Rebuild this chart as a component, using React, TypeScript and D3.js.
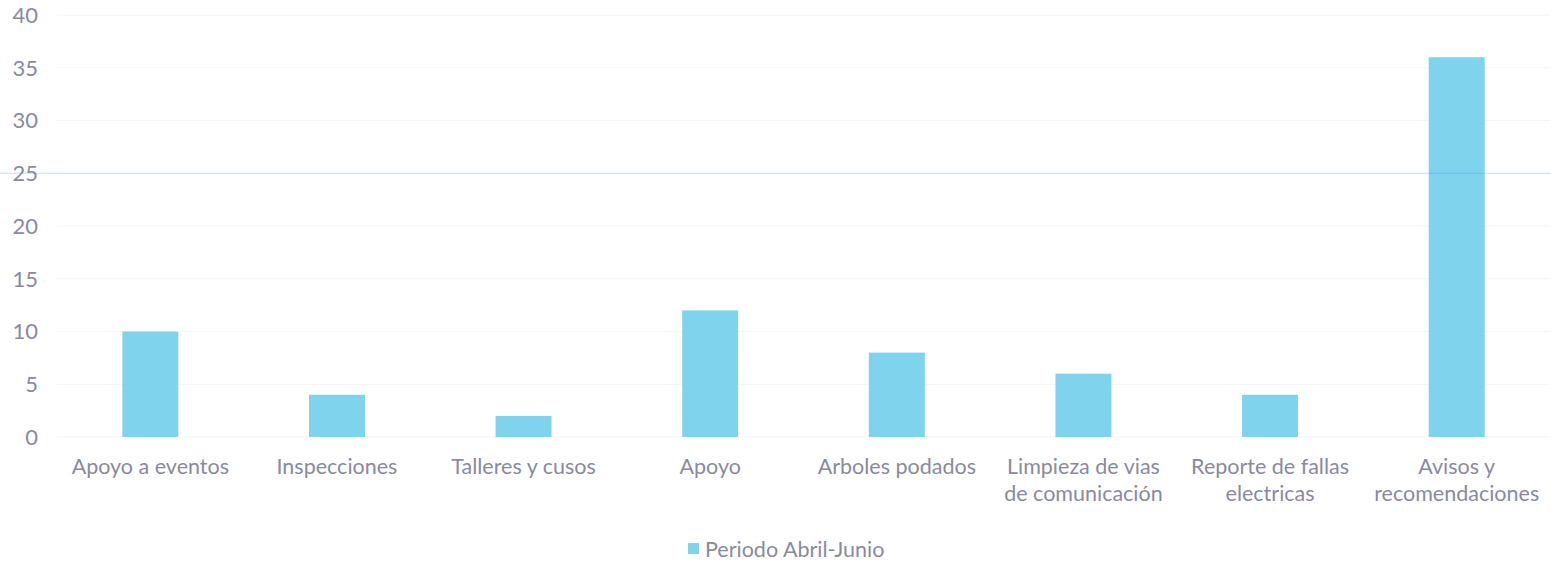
import React from "react";
import * as d3 from "d3";

const categories: string[][] = [
  ["Apoyo a eventos"],
  ["Inspecciones"],
  ["Talleres y cusos"],
  ["Apoyo"],
  ["Arboles podados"],
  ["Limpieza de vias", "de comunicación"],
  ["Reporte de fallas", "electricas"],
  ["Avisos y", "recomendaciones"],
];
const values: number[] = [10, 4, 2, 12, 8, 6, 4, 36];
const yTicks: number[] = [0, 5, 10, 15, 20, 25, 30, 35, 40];
const seriesName = "Periodo Abril-Junio";

const W = 1551;
const H = 561;
const left = 57;
const right = 1550;
const top = 15;
const bottom = 437;
const barColor = "#7fd3ec";
const textColor = "#8a8a9c";
const font = "Lato, 'Open Sans', sans-serif";

export default function App() {
  const keys = categories.map((_, i) => String(i));
  const x = d3.scaleBand<string>().domain(keys).range([left, right]).paddingInner(0.7).paddingOuter(0.35);
  const y = d3.scaleLinear().domain([0, 40]).range([bottom, top]);

  return (
    <svg
      width={W}
      height={H}
      style={{ position: "absolute", left: 0, top: 0, background: "#fff" }}
      fontFamily={font}
    >
      {yTicks.map((t) => (
        <g key={t}>
          {t !== 25 && (
            <line x1={left} x2={right} y1={y(t)} y2={y(t)} stroke="#f5f5f8" strokeWidth={1} />
          )}
          <text x={38} y={y(t)} dy="0.36em" textAnchor="end" fontSize={22} fill={textColor}>
            {t}
          </text>
        </g>
      ))}
      {values.map((v, i) => (
        <rect
          key={i}
          x={x(String(i))}
          y={y(v)}
          width={x.bandwidth()}
          height={y(0) - y(v)}
          fill={barColor}
        />
      ))}
      <line x1={0} x2={W} y1={y(25)} y2={y(25)} stroke="#5b84d6" strokeOpacity={0.3} strokeWidth={1.2} />
      {categories.map((lines, i) => (
        <text
          key={i}
          x={(x(String(i)) as number) + x.bandwidth() / 2}
          y={474}
          textAnchor="middle"
          fontSize={21.5}
          fill={textColor}
        >
          {lines.map((l, j) => (
            <tspan key={j} x={(x(String(i)) as number) + x.bandwidth() / 2} dy={j === 0 ? 0 : 27}>
              {l}
            </tspan>
          ))}
        </text>
      ))}
      <rect x={688} y={543} width={11} height={11} fill={barColor} />
      <text x={705} y={557} fontSize={21.5} fill={textColor}>
        {seriesName}
      </text>
    </svg>
  );
}
